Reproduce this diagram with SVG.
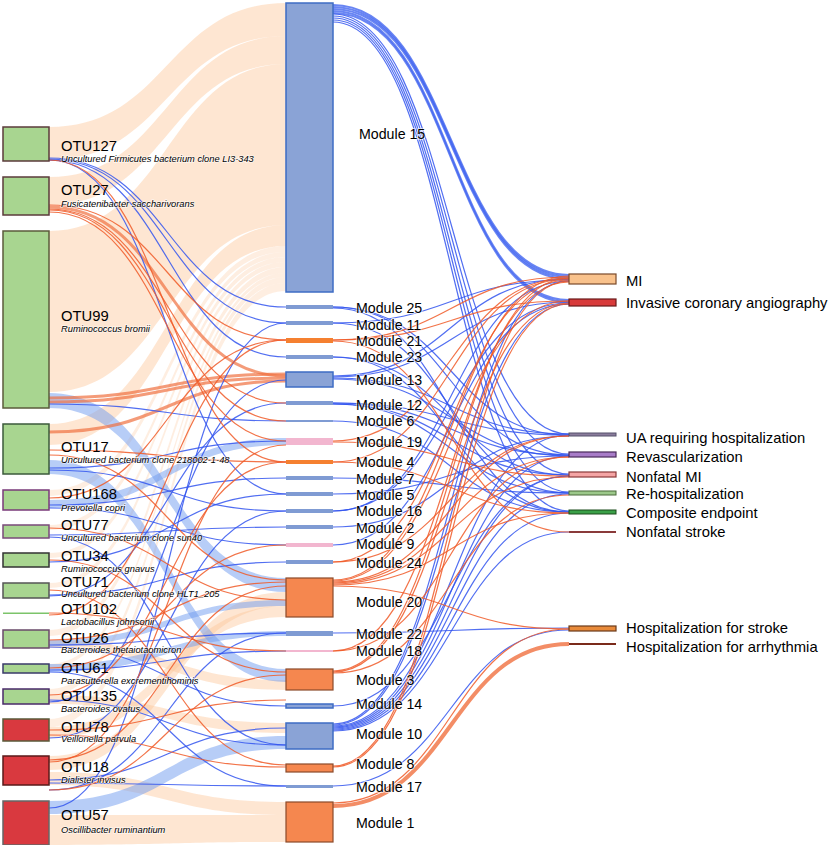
<svg xmlns="http://www.w3.org/2000/svg" width="829" height="845" viewBox="0 0 829 845">
<style>
.pe{fill:#fcc79b;opacity:.45}
.pf{fill:#fcc79b;opacity:.3}
.bb{fill:#6f9cf0;opacity:.5}
.lb{fill:none;stroke:#3355ee;stroke-width:1.2;opacity:.85}
.lo{fill:none;stroke:#f05a28;stroke-width:1.2;opacity:.85}
.lbt{fill:none;stroke:#4466f0;stroke-width:2.2;opacity:.8}
.lot{fill:none;stroke:#f07040;stroke-width:3;opacity:.7}
.g{fill:#a8d590;stroke-width:1.5}
.r{fill:#d9393f;stroke-width:1.5}
.mb{fill:#8aa3d6;stroke:#3e6cc4;stroke-width:1.5}
.mo{fill:#f5874f;stroke:#8b4a2a;stroke-width:1.2}
.mt{fill:#7f9bd3}
.mp{fill:#f2b6cf}
.mor{fill:#f58030}
text{font-family:"Liberation Sans",Arial,sans-serif;fill:#000}
.n{font-size:14.8px}
.s{font-size:9.3px;font-style:italic;stroke:#fff;stroke-width:1.5;stroke-opacity:.6;paint-order:stroke}
.m{font-size:14.2px;stroke:#fff;stroke-width:2;stroke-opacity:.6;paint-order:stroke}
</style>
<rect width="829" height="845" fill="#fff"/>
<g id="connectors">
<path class="pe" d="M49,127 C167.5,127 167.5,3 286,3 L286,36 C167.5,36 167.5,160 49,160 Z"/>
<path class="pe" d="M49,177 C167.5,177 167.5,36 286,36 L286,64 C167.5,64 167.5,205 49,205 Z"/>
<path class="pe" d="M49,231 C167.5,231 167.5,64 286,64 L286,225 C167.5,225 167.5,392 49,392 Z"/>
<path class="pe" d="M49,424 C167.5,424 167.5,225 286,225 L286,246 C167.5,246 167.5,445 49,445 Z"/>
<path class="pf" d="M49,490 C167.5,490 167.5,246 286,246 L286,252 C167.5,252 167.5,496 49,496 Z"/>
<path class="pf" d="M49,525 C167.5,525 167.5,252 286,252 L286,257 C167.5,257 167.5,530 49,530 Z"/>
<path class="pf" d="M49,553 C167.5,553 167.5,257 286,257 L286,262 C167.5,262 167.5,558 49,558 Z"/>
<path class="pf" d="M49,583 C167.5,583 167.5,262 286,262 L286,267 C167.5,267 167.5,588 49,588 Z"/>
<path class="pf" d="M49,630 C167.5,630 167.5,267 286,267 L286,273 C167.5,273 167.5,636 49,636 Z"/>
<path class="pf" d="M49,664 C167.5,664 167.5,273 286,273 L286,277 C167.5,277 167.5,668 49,668 Z"/>
<path class="pf" d="M49,689 C167.5,689 167.5,277 286,277 L286,283 C167.5,283 167.5,695 49,695 Z"/>
<path class="pf" d="M49,719 C167.5,719 167.5,283 286,283 L286,291 C167.5,291 167.5,727 49,727 Z"/>
<path class="pe" d="M49,756 C167.5,756 167.5,592 286,592 L286,606 C167.5,606 167.5,770 49,770 Z"/>
<path class="pe" d="M49,727 C167.5,727 167.5,606 286,606 L286,617 C167.5,617 167.5,738 49,738 Z"/>
<path class="pe" d="M49,695 C167.5,695 167.5,723 286,723 L286,733 C167.5,733 167.5,704 49,704 Z"/>
<path class="pe" d="M49,640 C167.5,640 167.5,680 286,680 L286,690 C167.5,690 167.5,648 49,648 Z"/>
<path class="pe" d="M49,772 C167.5,772 167.5,802 286,802 L286,815 C167.5,815 167.5,785 49,785 Z"/>
<path class="pe" d="M49,815 C167.5,815 167.5,815 286,815 L286,842 C167.5,842 167.5,845 49,845 Z"/>
<path class="bb" d="M49,393 C167.5,393 167.5,578 286,578 L286,592 C167.5,592 167.5,408 49,408 Z"/>
<path class="bb" d="M49,460 C167.5,460 167.5,669 286,669 L286,682 C167.5,682 167.5,474 49,474 Z"/>
<path class="bb" d="M49,801 C167.5,801 167.5,736 286,736 L286,749 C167.5,749 167.5,814 49,814 Z"/>
<path class="bb" d="M49,500 C167.5,500 167.5,438 286,438 L286,445 C167.5,445 167.5,508 49,508 Z"/>
<path class="bb" d="M49,664 C167.5,664 167.5,631 286,631 L286,636 C167.5,636 167.5,672 49,672 Z"/>
<path class="bb" d="M49,640 C167.5,640 167.5,600 286,600 L286,606 C167.5,606 167.5,646 49,646 Z"/>
<path class="lot" d="M49,398 C167.5,398 167.5,374 286,374"/>
<path class="lot" d="M49,402 C167.5,402 167.5,378 286,378"/>
<path class="lot" d="M49,432 C167.5,432 167.5,381 286,381"/>
<path class="lot" d="M49,207 C167.5,207 167.5,376 286,376"/>
<path class="lb" d="M49,158 C167.5,158 167.5,307 286,307"/>
<path class="lb" d="M49,159 C167.5,159 167.5,323 286,323"/>
<path class="lb" d="M49,160 C167.5,160 167.5,357 286,357"/>
<path class="lb" d="M49,160 C167.5,160 167.5,494 286,494"/>
<path class="lb" d="M49,404 C167.5,404 167.5,421 286,421"/>
<path class="lb" d="M49,468 C167.5,468 167.5,441 286,441"/>
<path class="lb" d="M49,470 C167.5,470 167.5,511 286,511"/>
<path class="lb" d="M49,505 C167.5,505 167.5,478 286,478"/>
<path class="lb" d="M49,508 C167.5,508 167.5,545 286,545"/>
<path class="lb" d="M49,535 C167.5,535 167.5,527 286,527"/>
<path class="lb" d="M49,537 C167.5,537 167.5,745 286,745"/>
<path class="lb" d="M49,562 C167.5,562 167.5,494 286,494"/>
<path class="lb" d="M49,595 C167.5,595 167.5,562 286,562"/>
<path class="lb" d="M49,596 C167.5,596 167.5,403 286,403"/>
<path class="lb" d="M49,645 C167.5,645 167.5,633 286,633"/>
<path class="lb" d="M49,647 C167.5,647 167.5,706 286,706"/>
<path class="lb" d="M49,670 C167.5,670 167.5,651 286,651"/>
<path class="lb" d="M49,672 C167.5,672 167.5,786 286,786"/>
<path class="lb" d="M49,700 C167.5,700 167.5,745 286,745"/>
<path class="lb" d="M49,702 C167.5,702 167.5,380 286,380"/>
<path class="lb" d="M49,738 C167.5,738 167.5,511 286,511"/>
<path class="lb" d="M49,780 C167.5,780 167.5,728 286,728"/>
<path class="lb" d="M49,783 C167.5,783 167.5,786 286,786"/>
<path class="lb" d="M49,808 C167.5,808 167.5,323 286,323"/>
<path class="lb" d="M49,790 C167.5,790 167.5,633 286,633"/>
<path class="lo" d="M49,160 C167.5,160 167.5,462 286,462"/>
<path class="lo" d="M49,205 C167.5,205 167.5,340 286,340"/>
<path class="lo" d="M49,209 C167.5,209 167.5,403 286,403"/>
<path class="lo" d="M49,210 C167.5,210 167.5,421 286,421"/>
<path class="lo" d="M49,212 C167.5,212 167.5,441 286,441"/>
<path class="lo" d="M49,450 C167.5,450 167.5,462 286,462"/>
<path class="lo" d="M49,455 C167.5,455 167.5,580 286,580"/>
<path class="lo" d="M49,498 C167.5,498 167.5,340 286,340"/>
<path class="lo" d="M49,528 C167.5,528 167.5,600 286,600"/>
<path class="lo" d="M49,560 C167.5,560 167.5,672 286,672"/>
<path class="lo" d="M49,590 C167.5,590 167.5,765 286,765"/>
<path class="lo" d="M49,613 C167.5,613 167.5,651 286,651"/>
<path class="lo" d="M49,615 C167.5,615 167.5,340 286,340"/>
<path class="lo" d="M49,640 C167.5,640 167.5,582 286,582"/>
<path class="lo" d="M49,668 C167.5,668 167.5,545 286,545"/>
<path class="lo" d="M49,695 C167.5,695 167.5,462 286,462"/>
<path class="lo" d="M49,730 C167.5,730 167.5,700 286,700"/>
<path class="lo" d="M49,735 C167.5,735 167.5,767 286,767"/>
<path class="lo" d="M49,760 C167.5,760 167.5,586 286,586"/>
<path class="lo" d="M49,762 C167.5,762 167.5,445 286,445"/>
<path class="lo" d="M49,790 C167.5,790 167.5,675 286,675"/>
<path class="lbt" d="M333,5 C451,5 451,275 569,275"/>
<path class="lbt" d="M333,7 C451,7 451,277 569,277"/>
<path class="lbt" d="M333,9 C451,9 451,279 569,279"/>
<path class="lbt" d="M333,11 C451,11 451,300 569,300"/>
<path class="lbt" d="M333,13 C451,13 451,302 569,302"/>
<path class="lb" d="M333,14 C451,14 451,434 569,434"/>
<path class="lb" d="M333,16 C451,16 451,454 569,454"/>
<path class="lb" d="M333,18 C451,18 451,474 569,474"/>
<path class="lb" d="M333,20 C451,20 451,492 569,492"/>
<path class="lb" d="M333,22 C451,22 451,511 569,511"/>
<path class="lb" d="M333,724 C451,724 451,281 569,281"/>
<path class="lb" d="M333,725 C451,725 451,304 569,304"/>
<path class="lb" d="M333,726 C451,726 451,435 569,435"/>
<path class="lb" d="M333,727 C451,727 451,456 569,456"/>
<path class="lb" d="M333,728 C451,728 451,476 569,476"/>
<path class="lb" d="M333,729 C451,729 451,494 569,494"/>
<path class="lb" d="M333,730 C451,730 451,513 569,513"/>
<path class="lb" d="M333,731 C451,731 451,532 569,532"/>
<path class="lb" d="M333,307 C451,307 451,435 569,435"/>
<path class="lb" d="M333,307 C451,307 451,455 569,455"/>
<path class="lb" d="M333,308 C451,308 451,512 569,512"/>
<path class="lb" d="M333,323 C451,323 451,280 569,280"/>
<path class="lb" d="M333,323 C451,323 451,493 569,493"/>
<path class="lb" d="M333,357 C451,357 451,475 569,475"/>
<path class="lb" d="M333,357 C451,357 451,512 569,512"/>
<path class="lb" d="M333,376 C451,376 451,279 569,279"/>
<path class="lb" d="M333,377 C451,377 451,302 569,302"/>
<path class="lb" d="M333,378 C451,378 451,434 569,434"/>
<path class="lb" d="M333,379 C451,379 451,456 569,456"/>
<path class="lb" d="M333,403 C451,403 451,435 569,435"/>
<path class="lb" d="M333,403 C451,403 451,455 569,455"/>
<path class="lb" d="M333,404 C451,404 451,475 569,475"/>
<path class="lb" d="M333,404 C451,404 451,493 569,493"/>
<path class="lb" d="M333,421 C451,421 451,512 569,512"/>
<path class="lb" d="M333,478 C451,478 451,493 569,493"/>
<path class="lb" d="M333,494 C451,494 451,456 569,456"/>
<path class="lb" d="M333,511 C451,511 451,303 569,303"/>
<path class="lb" d="M333,511 C451,511 451,281 569,281"/>
<path class="lb" d="M333,527 C451,527 451,436 569,436"/>
<path class="lb" d="M333,545 C451,545 451,304 569,304"/>
<path class="lb" d="M333,633 C451,633 451,628 569,628"/>
<path class="lb" d="M333,706 C451,706 451,476 569,476"/>
<path class="lb" d="M333,786 C451,786 451,630 569,630"/>
<path class="lo" d="M333,340 C451,340 451,277 569,277"/>
<path class="lo" d="M333,340 C451,340 451,301 569,301"/>
<path class="lo" d="M333,341 C451,341 451,532 569,532"/>
<path class="lo" d="M333,441 C451,441 451,278 569,278"/>
<path class="lo" d="M333,442 C451,442 451,476 569,476"/>
<path class="lo" d="M333,462 C451,462 451,279 569,279"/>
<path class="lo" d="M333,462 C451,462 451,513 569,513"/>
<path class="lo" d="M333,562 C451,562 451,280 569,280"/>
<path class="lo" d="M333,562 C451,562 451,436 569,436"/>
<path class="lo" d="M333,580 C451,580 451,276 569,276"/>
<path class="lo" d="M333,581 C451,581 451,301 569,301"/>
<path class="lo" d="M333,582 C451,582 451,436 569,436"/>
<path class="lo" d="M333,583 C451,583 451,457 569,457"/>
<path class="lo" d="M333,584 C451,584 451,477 569,477"/>
<path class="lo" d="M333,585 C451,585 451,513 569,513"/>
<path class="lo" d="M333,586 C451,586 451,629 569,629"/>
<path class="lo" d="M333,651 C451,651 451,282 569,282"/>
<path class="lo" d="M333,651 C451,651 451,457 569,457"/>
<path class="lo" d="M333,671 C451,671 451,278 569,278"/>
<path class="lo" d="M333,672 C451,672 451,303 569,303"/>
<path class="lo" d="M333,673 C451,673 451,495 569,495"/>
<path class="lo" d="M333,766 C451,766 451,281 569,281"/>
<path class="lo" d="M333,767 C451,767 451,304 569,304"/>
<path class="lo" d="M333,803 C451,803 451,629 569,629"/>
<path fill="none" stroke="#f07040" stroke-width="4" opacity=".8" d="M333,806 C451,806 451,644 569,644"/>
</g>
<g id="OTU127"><rect class="g" stroke="#5b3b3b" x="3" y="127" width="46" height="34"/><text class="n" x="61" y="151">OTU127</text><text class="s" x="61" y="162">Uncultured Firmicutes bacterium clone LI3-343</text></g>
<g id="OTU27"><rect class="g" stroke="#5b3b3b" x="3" y="177" width="46" height="38"/><text class="n" x="61" y="195">OTU27</text><text class="s" x="61" y="207">Fusicatenibacter saccharivorans</text></g>
<g id="OTU99"><rect class="g" stroke="#5b5b3b" x="3" y="231" width="46" height="177"/><text class="n" x="61" y="321">OTU99</text><text class="s" x="61" y="332">Ruminococcus bromii</text></g>
<g id="OTU17"><rect class="g" stroke="#3b5a3b" x="3" y="424" width="46" height="50"/><text class="n" x="61" y="452">OTU17</text><text class="s" x="61" y="463">Uncultured bacterium clone 218002-1-48</text></g>
<g id="OTU168"><rect class="g" stroke="#7a3a7a" x="3" y="490" width="46" height="20"/><text class="n" x="61" y="499">OTU168</text><text class="s" x="61" y="511">Prevotella copri</text></g>
<g id="OTU77"><rect class="g" stroke="#7a4a7a" x="3" y="525" width="46" height="13"/><text class="n" x="61" y="530">OTU77</text><text class="s" x="61" y="541">Uncultured bacterium clone sun40</text></g>
<g id="OTU34"><rect class="g" stroke="#333" x="3" y="553" width="46" height="14"/><text class="n" x="61" y="561">OTU34</text><text class="s" x="61" y="572">Ruminococcus gnavus</text></g>
<g id="OTU71"><rect class="g" stroke="#555" x="3" y="583" width="46" height="15"/><text class="n" x="61" y="587">OTU71</text><text class="s" x="61" y="597">Uncultured bacterium clone HLT1_205</text></g>
<g id="OTU102"><rect fill="#7cc46a" x="3" y="612.5" width="46" height="1.5"/><text class="n" x="61" y="614">OTU102</text><text class="s" x="61" y="625">Lactobacillus johnsonii</text></g>
<g id="OTU26"><rect class="g" stroke="#6a4a6a" x="3" y="630" width="46" height="18"/><text class="n" x="61" y="643">OTU26</text><text class="s" x="61" y="653">Bacteroides thetaiotaomicron</text></g>
<g id="OTU61"><rect class="g" stroke="#3a3a6a" x="3" y="664" width="46" height="9"/><text class="n" x="61" y="673">OTU61</text><text class="s" x="61" y="684">Parasutterella excrementihominis</text></g>
<g id="OTU135"><rect class="g" stroke="#4a2a6a" x="3" y="689" width="46" height="15"/><text class="n" x="61" y="701">OTU135</text><text class="s" x="61" y="712">Bacteroides ovatus</text></g>
<g id="OTU78"><rect class="r" stroke="#5a5a3a" x="3" y="719" width="46" height="22"/><text class="n" x="61" y="732">OTU78</text><text class="s" x="61" y="742">Veillonella parvula</text></g>
<g id="OTU18"><rect class="r" stroke="#5a1a1a" x="3" y="756" width="46" height="29"/><text class="n" x="61" y="772">OTU18</text><text class="s" x="61" y="783">Dialister invisus</text></g>
<g id="OTU57"><rect class="r" stroke="#666" x="3" y="801" width="46" height="44"/><text class="n" x="61" y="820">OTU57</text><text class="s" x="61" y="833">Oscillibacter ruminantium</text></g>
<g id="M15"><rect class="mb" x="286" y="3" width="47" height="289"/><text class="m" x="359" y="139">Module 15</text></g>
<g id="M25"><rect class="mt" x="286" y="305" width="47" height="4"/><text class="m" x="356" y="313">Module 25</text></g>
<g id="M11"><rect class="mt" x="286" y="321" width="47" height="4"/><text class="m" x="356" y="330">Module 11</text></g>
<g id="M21"><rect class="mor" x="286" y="338" width="47" height="5"/><text class="m" x="356" y="346">Module 21</text></g>
<g id="M23"><rect class="mt" x="286" y="355" width="47" height="4"/><text class="m" x="356" y="362">Module 23</text></g>
<g id="M13"><rect class="mb" x="286" y="372" width="47" height="15"/><text class="m" x="356" y="385">Module 13</text></g>
<g id="M12"><rect class="mt" x="286" y="401" width="47" height="4"/><text class="m" x="356" y="410">Module 12</text></g>
<g id="M6"><rect class="mt" x="286" y="420" width="47" height="2"/><text class="m" x="356" y="425.5">Module 6</text></g>
<g id="M19"><rect class="mp" x="286" y="438" width="47" height="7"/><text class="m" x="356" y="447">Module 19</text></g>
<g id="M4"><rect class="mor" x="286" y="460" width="47" height="4"/><text class="m" x="356" y="467">Module 4</text></g>
<g id="M7"><rect class="mt" x="286" y="476" width="47" height="4"/><text class="m" x="356" y="484">Module 7</text></g>
<g id="M5"><rect class="mt" x="286" y="492" width="47" height="4"/><text class="m" x="356" y="499.5">Module 5</text></g>
<g id="M16"><rect class="mt" x="286" y="509" width="47" height="4"/><text class="m" x="356" y="516">Module 16</text></g>
<g id="M2"><rect class="mt" x="286" y="525" width="47" height="4"/><text class="m" x="356" y="533">Module 2</text></g>
<g id="M9"><rect class="mp" x="286" y="543" width="47" height="4"/><text class="m" x="356" y="549">Module 9</text></g>
<g id="M24"><rect class="mt" x="286" y="560" width="47" height="4"/><text class="m" x="356" y="568">Module 24</text></g>
<g id="M20"><rect class="mo" x="286" y="578" width="47" height="39"/><text class="m" x="356" y="607">Module 20</text></g>
<g id="M22"><rect class="mt" x="286" y="631" width="47" height="5"/><text class="m" x="356" y="639">Module 22</text></g>
<g id="M18"><rect class="mp" x="286" y="650" width="47" height="2"/><text class="m" x="356" y="656">Module 18</text></g>
<g id="M3"><rect class="mo" x="286" y="669" width="47" height="21"/><text class="m" x="356" y="685">Module 3</text></g>
<g id="M14"><rect class="mb" x="286" y="704" width="47" height="4"/><text class="m" x="356" y="709">Module 14</text></g>
<g id="M10"><rect class="mb" x="286" y="723" width="47" height="26"/><text class="m" x="356" y="739">Module 10</text></g>
<g id="M8"><rect class="mo" x="286" y="764" width="47" height="8"/><text class="m" x="356" y="769">Module 8</text></g>
<g id="M17"><rect class="mt" x="286" y="785" width="47" height="3"/><text class="m" x="356" y="792">Module 17</text></g>
<g id="M1"><rect class="mo" x="286" y="802" width="47" height="40"/><text class="m" x="356" y="828">Module 1</text></g>
<g id="MI"><rect fill="#f9c28c" stroke="#7a4a2a" stroke-width="1.2" x="569" y="274" width="47" height="10"/><text class="n" x="626" y="286">MI</text></g>
<g id="ICA"><rect fill="#d83a3a" stroke="#6a1a1a" stroke-width="1.2" x="569" y="299" width="47" height="7"/><text class="n" x="626" y="308">Invasive coronary angiography</text></g>
<g id="UA"><rect fill="#8a7c9c" stroke="#55506a" stroke-width="1" x="569" y="433" width="47" height="3"/><text class="n" x="626" y="443">UA requiring hospitalization</text></g>
<g id="Revasc"><rect fill="#a87cc8" stroke="#4a2a5a" stroke-width="1.2" x="569" y="452" width="47" height="5"/><text class="n" x="626" y="462">Revascularization</text></g>
<g id="NMI"><rect fill="#f4a4a4" stroke="#8a3a3a" stroke-width="1.2" x="569" y="472" width="47" height="5"/><text class="n" x="626" y="482">Nonfatal MI</text></g>
<g id="Rehosp"><rect fill="#9cc88a" stroke="#4a6a3a" stroke-width="1" x="569" y="491" width="47" height="4"/><text class="n" x="626" y="499">Re-hospitalization</text></g>
<g id="Composite"><rect fill="#3aa048" stroke="#1a4a1a" stroke-width="1" x="569" y="510" width="47" height="4"/><text class="n" x="626" y="518">Composite endpoint</text></g>
<g id="NStroke"><rect fill="#8a3a3a" x="569" y="531" width="47" height="2"/><text class="n" x="626" y="537">Nonfatal stroke</text></g>
<g id="HStroke"><rect fill="#e88a3a" stroke="#6a3a1a" stroke-width="1.2" x="569" y="626" width="47" height="5"/><text class="n" x="626" y="633">Hospitalization for stroke</text></g>
<g id="HArr"><rect fill="#7a2a1a" x="569" y="643" width="47" height="2"/><text class="n" x="626" y="652">Hospitalization for arrhythmia</text></g>
</svg>
